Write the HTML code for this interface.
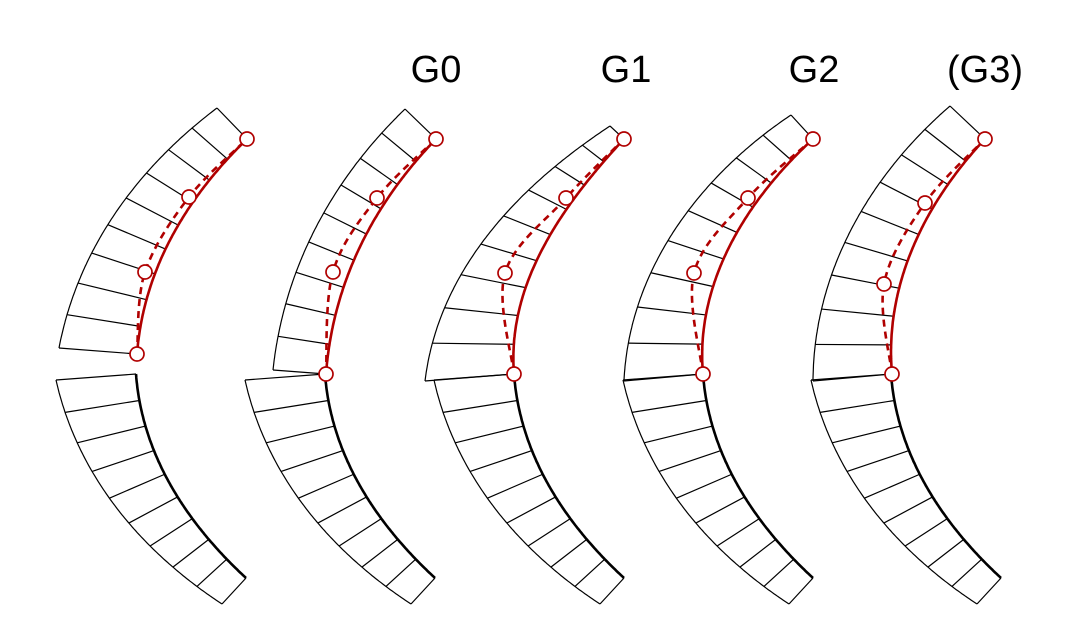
<!DOCTYPE html>
<html><head><meta charset="utf-8"><style>
html,body{margin:0;padding:0;background:#fff;}
svg{display:block;}
text{font-family:"Liberation Sans",sans-serif;font-size:38px;fill:#000;}
</style></head><body>
<svg id="s" width="1078" height="640" viewBox="0 0 1078 640" xmlns="http://www.w3.org/2000/svg">
<text x="436" y="82" text-anchor="middle">G0</text>
<text x="626" y="82" text-anchor="middle">G1</text>
<text x="814" y="82" text-anchor="middle">G2</text>
<text x="985" y="82" text-anchor="middle">(G3)</text>
</svg>
<script>
var svg=document.getElementById('s'),NS='http://www.w3.org/2000/svg';
function el(n,a){var e=document.createElementNS(NS,n);for(var k in a)e.setAttribute(k,a[k]);svg.appendChild(e);return e;}
function part(A,oa,B,ob,cells,inner){
 var la=Math.hypot(oa[0],oa[1]),lb=Math.hypot(ob[0],ob[1]);
 var na=[oa[0]/la,oa[1]/la],nb=[ob[0]/lb,ob[1]/lb];
 var ch=Math.hypot(B[0]-A[0],B[1]-A[1]);
 function tang(n){var t1=[-n[1],n[0]];if(t1[0]*(B[0]-A[0])+t1[1]*(B[1]-A[1])<0)t1=[n[1],-n[0]];return t1;}
 var ta=tang(na),tb=tang(nb),k=ch*1.05;
 var m0=[ta[0]*k,ta[1]*k],m1=[tb[0]*k,tb[1]*k];
 function P(t){var t2=t*t,t3=t2*t,h00=2*t3-3*t2+1,h10=t3-2*t2+t,h01=-2*t3+3*t2,h11=t3-t2;
  return [h00*A[0]+h10*m0[0]+h01*B[0]+h11*m1[0],h00*A[1]+h10*m0[1]+h01*B[1]+h11*m1[1]];}
 function N(t){var ang1=Math.atan2(na[1],na[0]),ang2=Math.atan2(nb[1],nb[0]);var d=ang2-ang1;while(d>Math.PI)d-=2*Math.PI;while(d<-Math.PI)d+=2*Math.PI;var a=ang1+d*t;return [Math.cos(a),Math.sin(a)];}
 function O(t){var p=P(t),n=N(t),th=la+(lb-la)*t;return [p[0]+n[0]*th,p[1]+n[1]*th];}
 var S=120,ip=[],op=[];
 for(var i=0;i<=S;i++){ip.push(P(i/S));op.push(O(i/S));}
 function pl(pts){return pts.map(function(p){return p[0].toFixed(1)+','+p[1].toFixed(1)}).join(' ');}
 el('polyline',{points:pl(op),fill:'none',stroke:'#000','stroke-width':1.2});
 for(var c=0;c<=cells;c++){var t=c/cells,p=P(t),o=O(t);el('line',{x1:p[0],y1:p[1],x2:o[0],y2:o[1],stroke:'#000','stroke-width':1.2});}
 el('polyline',{points:pl(ip),fill:'none',stroke:inner.c,'stroke-width':inner.w});
}
function crPath(pts){var d='M'+pts[0][0]+','+pts[0][1];
 for(var i=0;i<pts.length-1;i++){var p0=pts[i-1]||pts[i],p1=pts[i],p2=pts[i+1],p3=pts[i+2]||p2;
 d+=' C'+(p1[0]+(p2[0]-p0[0])/6)+','+(p1[1]+(p2[1]-p0[1])/6)+' '+(p2[0]-(p3[0]-p1[0])/6)+','+(p2[1]-(p3[1]-p1[1])/6)+' '+p2[0]+','+p2[1];}
 return d;}
var red='#b00000';
var offs=[0,189,378,567,755];
offs.forEach(function(o){part([136+o,374],[-80,6],[246+o,578],[-24,26],9,{c:'#000',w:2.6});});
var ups=[
 {A:[137,354],oa:[-78,-6],B:[247,139],ob:[-30,-31],c:[[145,272],[189,197]]},
 {A:[326,374],oa:[-53,-4],B:[436,139],ob:[-31,-30],c:[[333,272],[377,198]]},
 {A:[514,374],oa:[-89,7],B:[624,139],ob:[-14,-13],c:[[505,273],[566,198]]},
 {A:[703,374],oa:[-79,7],B:[813,139],ob:[-22,-24],c:[[694,273],[748,198]]},
 {A:[892,374],oa:[-79,7],B:[985,139],ob:[-35,-33],c:[[884,284],[925,203]]}
];
ups.forEach(function(u){
 part(u.A,u.oa,u.B,u.ob,9,{c:red,w:2.6});
 var pts=[u.A,u.c[0],u.c[1],u.B];
 el('path',{d:crPath(pts),fill:'none',stroke:red,'stroke-width':2.6,'stroke-dasharray':'7,5'});
 pts.forEach(function(p){el('circle',{cx:p[0],cy:p[1],r:7,fill:'#fff',stroke:red,'stroke-width':1.7});});
});
</script>
</body></html>
